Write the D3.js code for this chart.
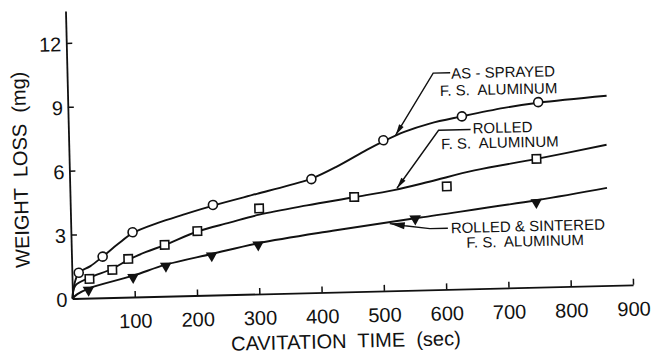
<!DOCTYPE html>
<html>
<head>
<meta charset="utf-8">
<script src="https://cdn.jsdelivr.net/npm/d3@7"></script>
<style>
  html, body { margin: 0; padding: 0; background: #fff; }
  svg { display: block; }
  text { font-family: "Liberation Sans", Arial, sans-serif; fill: #111; white-space: pre; }
</style>
</head>
<body>
<svg id="chart" width="656" height="355"></svg>
<script>
// ---------- data ----------
const timeTicks = [100, 200, 300, 400, 500, 600, 700, 800, 900];
const weightTicks = [0, 3, 6, 9, 12];
const xTitle = "CAVITATION  TIME  (sec)";
const yTitle = "WEIGHT  LOSS  (mg)";

// measured points
const sprayedTime   = [11, 50, 99, 229, 388, 505, 632, 755];
const sprayedWeight = [1.20, 1.93, 3.04, 4.23, 5.33, 7.07, 8.10, 8.68];
const rolledTime    = [28, 65, 91, 150, 203, 303, 456, 605, 750];
const rolledWeight  = [0.90, 1.30, 1.79, 2.41, 3.02, 4.01, 4.44, 4.83, 6.02];
const sinteredTime  = [26, 98, 151, 225, 300, 553, 748];
const sinteredWeight= [0.38, 0.93, 1.42, 1.85, 2.31, 3.35, 3.98];

// drawn fitted curves
const sprayedCurveTime   = [0, 3, 11, 30, 50, 75, 99, 140, 180, 229, 300, 350, 388, 430, 478, 505, 540, 580, 632, 700, 755, 865];
const sprayedCurveWeight = [0, 0.6, 1.2, 1.5, 1.93, 2.5, 3.0, 3.45, 3.8, 4.2, 4.7, 5.05, 5.35, 5.9, 6.64, 7.02, 7.45, 7.8, 8.1, 8.45, 8.65, 8.9];
const rolledCurveTime    = [0, 5, 28, 65, 91, 120, 150, 203, 255, 303, 380, 456, 520, 577, 650, 750, 863];
const rolledCurveWeight  = [0, 0.6, 0.95, 1.35, 1.75, 2.1, 2.4, 3.0, 3.38, 3.72, 4.1, 4.43, 4.72, 5.07, 5.55, 6.02, 6.6];
const sinteredCurveTime  = [0, 8, 26, 98, 151, 225, 300, 420, 561, 748, 862];
const sinteredCurveWeight= [0, 0.2, 0.45, 1.0, 1.48, 1.93, 2.38, 2.88, 3.4, 4.08, 4.58];

// annotations: label lines and the point on each curve the arrow touches
const sprayedLabel  = ["AS - SPRAYED", "F. S.  ALUMINUM"];
const rolledLabel   = ["ROLLED", "F. S.  ALUMINUM"];
const sinteredLabel = ["ROLLED & SINTERED", "F. S.  ALUMINUM"];
const sprayedArrowAt  = [525, 7.3];
const rolledArrowAt   = [525, 4.8];
const sinteredArrowAt = [512, 3.15];

// ---------- layout ----------
const origin = [72.5, 298.5];
const tilt = -1.4;            // scanned page is slightly rotated
const xMaxPx = 560.7, yTop = 13.5, yMaxPx = 287.6;

const svg = d3.select("#chart");
svg.append("rect").attr("width", 656).attr("height", 355).attr("fill", "#fff");
const g = svg.append("g").attr("transform", `translate(${origin[0]},${origin[1]}) rotate(${tilt})`);

const x = d3.scaleLinear().domain([0, 900]).range([0, xMaxPx]);
const y = d3.scaleLinear().domain([0, yTop]).range([0, -yMaxPx]);

const ink = "#111";

// x axis
const xAxis = g.append("g").call(
  d3.axisBottom(x).tickValues(timeTicks).tickSizeInner(-6).tickSizeOuter(0).tickFormat(d3.format("d"))
);
xAxis.select(".domain").attr("stroke", ink).attr("stroke-width", 1.8);
xAxis.selectAll(".tick line").attr("stroke", ink).attr("stroke-width", 1.5);
xAxis.selectAll(".tick text")
  .attr("y", 31).attr("dy", 0)
  .style("font-size", "20px").style("font-family", "Liberation Sans, Arial, sans-serif").attr("fill", ink);

// y axis
const yAxis = g.append("g").call(
  d3.axisLeft(y).tickValues(weightTicks).tickSizeInner(-6).tickSizeOuter(0).tickPadding(5).tickFormat(d3.format("d"))
);
yAxis.select(".domain").attr("stroke", ink).attr("stroke-width", 1.8);
yAxis.selectAll(".tick line").attr("stroke", ink).attr("stroke-width", 1.5);
yAxis.selectAll(".tick text")
  .attr("dy", "0.38em")
  .style("font-size", "20px").style("font-family", "Liberation Sans, Arial, sans-serif").attr("fill", ink);

// axis titles
g.append("text").attr("x", x(437)).attr("y", 49).attr("dy", "0.35em")
  .attr("text-anchor", "middle").style("font-size", "20px").text(xTitle);
g.append("text").attr("transform", `translate(-49,${y(6.1)}) rotate(-90)`).attr("dy", "0.35em")
  .attr("text-anchor", "middle").style("font-size", "20px").text(yTitle);

// curves
const line = d3.line().x(d => x(d[0])).y(d => y(d[1])).curve(d3.curveCatmullRom.alpha(0.5));
function drawCurve(ts, ws) {
  g.append("path").datum(ts.map((t, i) => [t, ws[i]]))
    .attr("d", line).attr("fill", "none").attr("stroke", ink).attr("stroke-width", 1.9);
}
drawCurve(sprayedCurveTime, sprayedCurveWeight);
drawCurve(rolledCurveTime, rolledCurveWeight);
drawCurve(sinteredCurveTime, sinteredCurveWeight);

// markers
g.selectAll(".circ").data(sprayedTime.map((t, i) => [t, sprayedWeight[i]])).enter()
  .append("circle").attr("cx", d => x(d[0])).attr("cy", d => y(d[1])).attr("r", 4.5)
  .attr("fill", "#fff").attr("stroke", ink).attr("stroke-width", 1.6);
g.selectAll(".sq").data(rolledTime.map((t, i) => [t, rolledWeight[i]])).enter()
  .append("rect").attr("x", d => x(d[0]) - 4.2).attr("y", d => y(d[1]) - 4.2)
  .attr("width", 8.4).attr("height", 8.4)
  .attr("fill", "#fff").attr("stroke", ink).attr("stroke-width", 1.6);
const tri = d3.symbol().type(d3.symbolTriangle).size(58);
g.selectAll(".tri").data(sinteredTime.map((t, i) => [t, sinteredWeight[i]])).enter()
  .append("path").attr("d", tri)
  .attr("transform", d => `translate(${x(d[0])},${y(d[1])}) rotate(180)`)
  .attr("fill", ink);

// annotations
function arrowHead(tip, from, len, half) {
  const dx = from[0] - tip[0], dy = from[1] - tip[1];
  const L = Math.hypot(dx, dy), ux = dx / L, uy = dy / L;
  const bx = tip[0] + ux * len, by = tip[1] + uy * len;
  return `M${tip[0]},${tip[1]}L${bx - uy * half},${by + ux * half}L${bx + uy * half},${by - ux * half}Z`;
}
function annotate(at, pts, lines, textPos) {
  const tip = [x(at[0]), y(at[1])];
  const path = [tip].concat(pts.map(p => [tip[0] + p[0], tip[1] + p[1]]));
  g.append("path").attr("d", d3.line()(path)).attr("fill", "none").attr("stroke", ink).attr("stroke-width", 1.4);
  g.append("path").attr("d", arrowHead(tip, path[1], textPos.head[0], textPos.head[1])).attr("fill", ink);
  lines.forEach((s, i) => {
    g.append("text").attr("x", tip[0] + textPos.lines[i][0]).attr("y", tip[1] + textPos.lines[i][1])
      .attr("text-anchor", textPos.lines[i][2]).style("font-size", "15px").text(s);
  });
}
annotate(sprayedArrowAt, [[39, -61], [56, -61]], sprayedLabel,
  { head: [11, 2.6], lines: [[57, -55, "start"], [104, -38, "middle"]] });
annotate(rolledArrowAt, [[43, -57], [75, -57]], rolledLabel,
  { head: [11, 2.6], lines: [[77, -53, "start"], [104, -38, "middle"]] });
annotate(sinteredArrowAt, [[15, 2.5], [40, 6], [58, 6]], sinteredLabel,
  { head: [15, 3.5], lines: [[138, 11, "middle"], [135, 26, "middle"]] });
</script>
</body>
</html>
